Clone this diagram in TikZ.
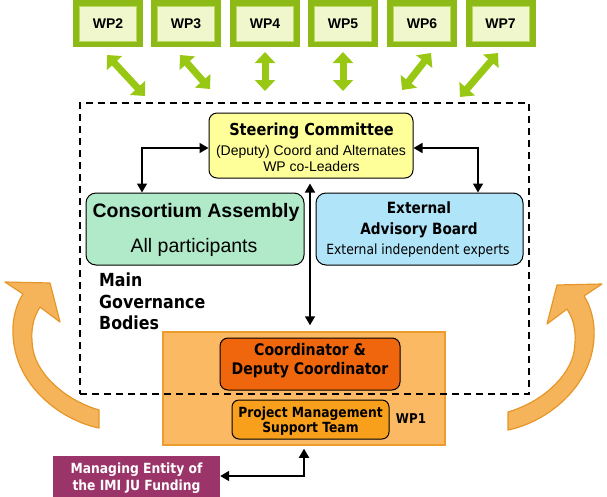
\documentclass[tikz,border=0pt]{standalone}
\usepackage{fontspec}
\setmainfont{Liberation Sans}
\newfontfamily\tah[FakeStretch=0.88]{DejaVu Sans}
\usetikzlibrary{arrows.meta}
\definecolor{wpouter}{RGB}{142,186,24}
\definecolor{wpinner}{RGB}{240,247,204}
\definecolor{wpline}{RGB}{186,218,96}
\definecolor{garrow}{RGB}{153,200,20}
\definecolor{scfill}{RGB}{255,255,153}
\definecolor{cafill}{RGB}{176,234,200}
\definecolor{ebfill}{RGB}{176,228,248}
\definecolor{obfill}{RGB}{251,185,100}
\definecolor{obline}{RGB}{238,155,45}
\definecolor{cofill}{RGB}{240,102,12}
\definecolor{pmfill}{RGB}{248,160,28}
\definecolor{mefill}{RGB}{155,52,104}
\definecolor{oafill}{RGB}{246,180,90}
\definecolor{oaline}{RGB}{230,150,40}
\tikzset{
  wpbox/.style={minimum width=70pt, minimum height=47pt, inner sep=0pt, fill=wpouter,
    path picture={\draw[wpline, fill=wpinner, line width=1pt]
      ([shift={(6.5pt,-6.5pt)}]path picture bounding box.north west) rectangle
      ([shift={(-6.5pt,6pt)}]path picture bounding box.south east);},
    font=\fontsize{14}{16}\selectfont\bfseries, text depth=0pt},
  garr/.style={draw=garrow, line width=7pt, {Triangle[width=20pt,length=11pt]}-{Triangle[width=20pt,length=11pt]}},
  rbox/.style={draw=black, line width=1pt, rounded corners=8pt, inner sep=0pt},
  txt/.style={inner sep=0pt, anchor=base},
  tbold/.style={font=\tah\bfseries\fontsize{#1}{#1}\selectfont},
  aregular/.style={font=\fontsize{#1}{#1}\selectfont},
  abold/.style={font=\bfseries\fontsize{#1}{#1}\selectfont},
  conn/.style={line width=1.6pt, {Triangle[length=9pt,width=10pt]}-{Triangle[length=9pt,width=10pt]}},
  dashbox/.style={draw=black, line width=1.5pt, dash pattern=on 7pt off 5pt, inner sep=0pt},
  orarrow/.style={fill=oafill, draw=oaline, line width=1.2pt, line join=round}
}
\begin{document}
\begin{tikzpicture}[x=1pt,y=-1pt]
\useasboundingbox (0,0) rectangle (607,496);
% orange curved arrows
\path[orarrow] (99,428) .. controls (60,420) and (15,385) .. (13,335)
  .. controls (12,318) and (17,303) .. (23,294) -- (5,282) -- (50,283) -- (60,322) -- (40,307)
  .. controls (33,318) and (30,330) .. (33,350) .. controls (38,375) and (65,400) .. (99,410) -- cycle;
\begin{scope}[xshift=607pt, xscale=-1, yshift=-2pt]
\path[orarrow] (99,428) .. controls (60,420) and (15,385) .. (13,335)
  .. controls (12,318) and (17,303) .. (23,294) -- (5,282) -- (50,283) -- (60,322) -- (40,307)
  .. controls (33,318) and (30,330) .. (33,350) .. controls (38,375) and (65,400) .. (99,410) -- cycle;
\end{scope}
% WP boxes
\node[wpbox] (wp2) at (108,23.5) {WP2};
\node[wpbox] (wp3) at (186,23.5) {WP3};
\node[wpbox] (wp4) at (265,23.5) {WP4};
\node[wpbox] (wp5) at (343,23.5) {WP5};
\node[wpbox] (wp6) at (422,23.5) {WP6};
\node[wpbox] (wp7) at (500.5,23.5) {WP7};
% green arrow ends
\coordinate (g2a) at (107,55);  \coordinate (g2b) at (145,96);
\coordinate (g3a) at (180,55);  \coordinate (g3b) at (210,89);
\coordinate (g4a) at (265,52);  \coordinate (g4b) at (265,91);
\coordinate (g5a) at (343,52);  \coordinate (g5b) at (343,91);
\coordinate (g6a) at (431,53);  \coordinate (g6b) at (402,90);
\coordinate (g7a) at (498,53);  \coordinate (g7b) at (460,97);
\foreach \i in {2,...,7} {\draw[garr] (g\i a) -- (g\i b);}
% governance boxes
\node[rbox, fill=cafill, rounded corners=10pt, minimum width=218pt, minimum height=72pt] (CA) at (195,229) {};
\node[rbox, fill=ebfill, rounded corners=10pt, minimum width=207pt, minimum height=72pt] (EAB) at (419.5,229) {};
\node[rbox, fill=scfill, minimum width=204pt, minimum height=65pt] (SC) at (311,145.5) {};
% WP1 block
\node[draw=obline, fill=obfill, line width=1.5pt, minimum width=282pt, minimum height=113pt, inner sep=0pt] (OB) at (304,388.5) {};
\node[rbox, fill=cofill, minimum width=180pt, minimum height=52pt] (CO) at (310,364) {};
\node[rbox, fill=pmfill, rounded corners=7pt, minimum width=157pt, minimum height=39pt] (PM) at (310.5,419.5) {};
\node[dashbox, minimum width=449pt, minimum height=291pt] (GB) at (304.5,248.5) {};
\node[fill=mefill, minimum width=167pt, minimum height=44pt, inner sep=0pt] (ME) at (136.5,478) {};
% texts
\node[txt, tbold=16.5] (sct1) at (311.5,135) {Steering Committee};
\node[txt, aregular=14] (sct2) at (311,155) {(Deputy) Coord and Alternates};
\node[txt, aregular=14] (sct3) at (311.5,171) {WP co-Leaders};
\node[txt, abold=19.5] (cat1) at (196,217) {Consortium Assembly};
\node[txt, aregular=19.5] (cat2) at (194,252) {All participants};
\node[txt, tbold=15.5] (ebt1) at (419,213) {External};
\node[txt, tbold=15.5] (ebt2) at (419,234) {Advisory Board};
\node[txt, font=\tah\fontsize{14}{14}\selectfont] (ebt3) at (418,254) {External independent experts};
\node[txt, tbold=18, anchor=base west] (mg1) at (99,286) {Main};
\node[txt, tbold=18, anchor=base west] (mg2) at (99,308) {Governance};
\node[txt, tbold=18, anchor=base west] (mg3) at (99,329) {Bodies};
\node[txt, tbold=16] (cot1) at (310,355) {Coordinator \&};
\node[txt, tbold=16] (cot2) at (310,374) {Deputy Coordinator};
\node[txt, tbold=14] (pmt1) at (310.5,417) {Project Management};
\node[txt, tbold=14] (pmt2) at (310.5,432) {Support Team};
\node[txt, tbold=13.5] (wp1) at (411,423) {WP1};
\node[txt, tbold=14, text=white] (met1) at (136.5,473) {Managing Entity of};
\node[txt, tbold=14, text=white] (met2) at (136.5,490) {the IMI JU Funding};
% black connectors
\coordinate (cl) at (142,148);
\coordinate (cr) at (478,148);
\coordinate (cv) at (310,0);
\coordinate (cm) at (304,476);
\draw[conn] (cl -| SC.west) -- (cl) -- (cl |- CA.north);
\draw[conn] (cr -| SC.east) -- (cr) -- (cr |- EAB.north);
\draw[conn, shorten <=5pt, shorten >=6pt] (cv |- SC.south) -- (cv |- OB.north);
\draw[conn, shorten <=3pt] (cm |- OB.south) -- (cm) -- (cm -| ME.east);
\end{tikzpicture}
\end{document}
